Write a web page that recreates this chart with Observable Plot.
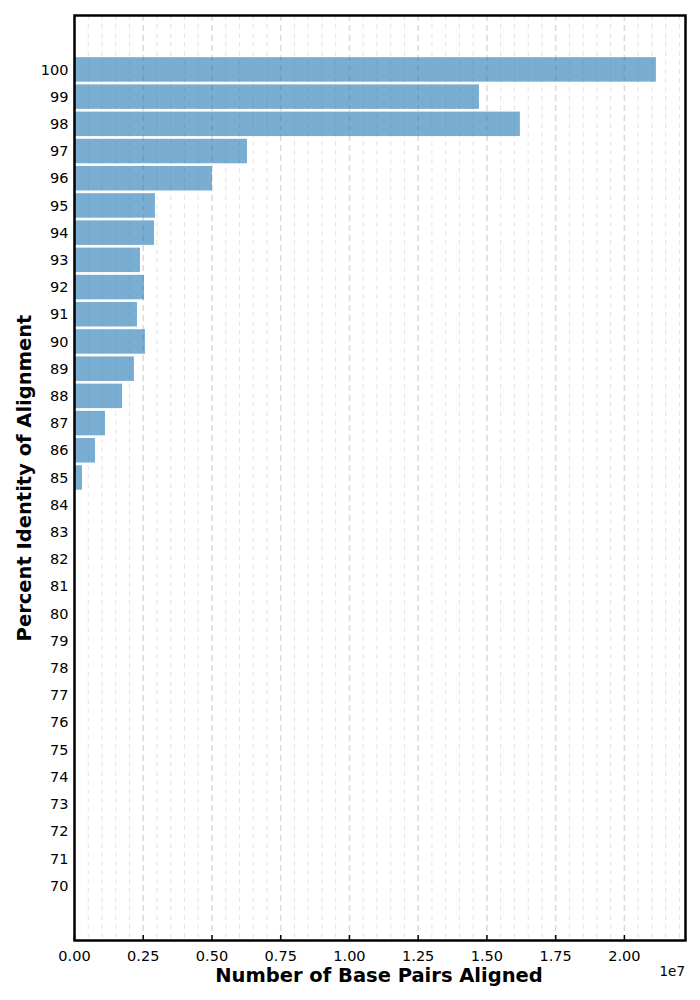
<!DOCTYPE html>
<html>
<head>
<meta charset="utf-8">
<script src="https://cdn.jsdelivr.net/npm/d3@7"></script>
<script src="https://cdn.jsdelivr.net/npm/@observablehq/plot@0.6"></script>
<style>
  html, body { margin: 0; padding: 0; background: #fff; }
  #chart { width: 700px; height: 1000px; }
  svg { font-family: "DejaVu Sans", sans-serif; }
</style>
</head>
<body>
<div id="chart"></div>
<script>
// Data
const identities = [100, 99, 98, 97, 96, 95, 94, 93, 92, 91, 90, 89, 88, 87, 86, 85,
                    84, 83, 82, 81, 80, 79, 78, 77, 76, 75, 74, 73, 72, 71, 70];
const basePairs = [21164000, 14727000, 16218000, 6290000, 5018000, 2945000, 2910000, 2400000,
                   2545000, 2290000, 2580000, 2180000, 1745000, 1127000, 764000, 290000,
                   0, 0, 0, 0, 0, 0, 0, 0, 0, 0, 0, 0, 0, 0, 0];
const xTicks = [0, 2.5e6, 5e6, 7.5e6, 1e7, 1.25e7, 1.5e7, 1.75e7, 2e7];
const xMinorTicks = d3.range(0, 2.22e7, 5e5).filter(v => !xTicks.some(t => Math.abs(t - v) < 1));
const yTicks = identities;

const rows = identities.map((p, i) => ({p, v: basePairs[i]}));
const xMax = d3.max(basePairs) * 1.05;

const W = 700, H = 1000;
const mL = 74, mR = 15, mT = 15, mB = 60;
const yPerPx = 34 / (H - mT - mB);

const chart = Plot.plot({
  width: W,
  height: H,
  marginLeft: mL,
  marginRight: mR,
  marginTop: mT,
  marginBottom: mB,
  style: {fontFamily: "DejaVu Sans, sans-serif", background: "#fff"},
  x: {domain: [0, xMax], axis: null},
  y: {domain: [68, 102], axis: null},
  marks: [
    // minor grid
    Plot.ruleX(xMinorTicks, {x: d => d, stroke: "#e4e4e4", strokeWidth: 1, strokeDasharray: "5,4"}),
    // major grid
    Plot.ruleX(xTicks, {x: d => d, stroke: "#dcdcdc", strokeWidth: 1.6, strokeDasharray: "6,4"}),
    // bars
    Plot.rectX(rows, {
      x1: 0, x2: "v",
      y1: d => d.p - 0.45, y2: d => d.p + 0.45,
      fill: "#1f77b4", fillOpacity: 0.6
    }),
    // x ticks (inward)
    Plot.ruleX(xTicks, {x: d => d, y1: 68, y2: 68 + 5 * yPerPx, stroke: "black", strokeWidth: 1.5}),
    // x tick labels
    Plot.text(xTicks, {x: d => d, y: 68, text: d => (d / 1e7).toFixed(2), dy: 10,
      lineAnchor: "top", fontSize: 14.5, fill: "black"}),
    // y tick labels
    Plot.text(yTicks, {y: d => d, x: 0, text: d => String(d), dx: -6,
      textAnchor: "end", fontSize: 14.5, fill: "black"}),
    // frame
    Plot.frame({stroke: "black", strokeWidth: 2.5})
  ]
});

const svg = d3.select(chart);
// Axis titles and offset label
svg.append("text")
  .attr("x", 379)
  .attr("y", 982)
  .attr("text-anchor", "middle")
  .attr("font-size", 19.5)
  .attr("font-weight", "bold")
  .attr("fill", "black")
  .text("Number of Base Pairs Aligned");
svg.append("text")
  .attr("transform", `translate(31, 478) rotate(-90)`)
  .attr("text-anchor", "middle")
  .attr("font-size", 19.5)
  .attr("font-weight", "bold")
  .attr("fill", "black")
  .text("Percent Identity of Alignment");
svg.append("text")
  .attr("x", W - mR)
  .attr("y", 976)
  .attr("text-anchor", "end")
  .attr("font-size", 13.5)
  .attr("fill", "black")
  .text("1e7");

document.getElementById("chart").appendChild(chart);
</script>
</body>
</html>
